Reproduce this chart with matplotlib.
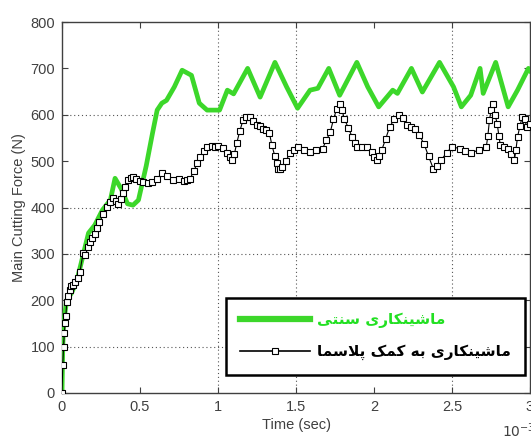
import matplotlib
matplotlib.use('Agg')
import matplotlib.pyplot as plt
from matplotlib.lines import Line2D

# conventional machining (green), time in ms
t_conv = [0, 0.005, 0.01, 0.03, 0.06, 0.094, 0.135, 0.17, 0.21, 0.26, 0.31, 0.34,
          0.38, 0.42, 0.455, 0.49, 0.54, 0.58, 0.61, 0.64, 0.67, 0.72, 0.77, 0.83,
          0.88, 0.93, 1.01, 1.06, 1.10, 1.19, 1.27, 1.365, 1.44, 1.51, 1.59, 1.64,
          1.71, 1.78, 1.89, 1.96, 2.03, 2.12, 2.15, 2.24, 2.31, 2.42, 2.51, 2.56,
          2.62, 2.68, 2.70, 2.78, 2.86, 2.92, 2.99, 3.0]
f_conv = [0, 100, 150, 200, 215, 240, 297, 345, 362, 395, 416, 463,
          440, 408, 405, 416, 490, 560, 610, 625, 631, 660, 696, 685,
          625, 610, 610, 653, 645, 700, 638, 713, 660, 614, 653, 657,
          700, 642, 713, 660, 617, 653, 646, 700, 649, 713, 660, 617,
          642, 700, 646, 713, 617, 653, 700, 695]

# plasma assisted machining (black with markers)
t_plasma = [0, 0.005, 0.01, 0.015, 0.02, 0.025, 0.03, 0.04, 0.05, 0.06, 0.07, 0.085,
            0.1, 0.115, 0.135, 0.15, 0.167, 0.18, 0.195, 0.21, 0.225, 0.24, 0.265,
            0.29, 0.31, 0.33, 0.345, 0.36, 0.375, 0.39, 0.405, 0.42, 0.44, 0.455,
            0.475, 0.5, 0.52, 0.55, 0.58, 0.61, 0.64, 0.67, 0.71, 0.75, 0.78, 0.80,
            0.82, 0.845, 0.865, 0.885, 0.91, 0.93, 0.96, 0.98, 1.0, 1.03, 1.06,
            1.075, 1.09, 1.105, 1.12, 1.14, 1.16, 1.18, 1.205, 1.225, 1.25, 1.27,
            1.29, 1.31, 1.33, 1.345, 1.365, 1.375, 1.385, 1.40, 1.41, 1.435, 1.46,
            1.485, 1.51, 1.55, 1.59, 1.63, 1.67, 1.695, 1.72, 1.74, 1.76, 1.78,
            1.795, 1.81, 1.835, 1.86, 1.875, 1.89, 1.92, 1.955, 1.985, 2.0, 2.02,
            2.035, 2.05, 2.075, 2.10, 2.13, 2.16, 2.185, 2.21, 2.235, 2.26, 2.29,
            2.32, 2.35, 2.38, 2.405, 2.43, 2.465, 2.50, 2.55, 2.585, 2.62, 2.67,
            2.72, 2.73, 2.74, 2.75, 2.76, 2.775, 2.79, 2.80, 2.81, 2.835, 2.86,
            2.88, 2.90, 2.91, 2.92, 2.935, 2.95, 2.965, 2.98, 3.0]
f_plasma = [0, 60, 100, 130, 150, 165, 196, 210, 222, 230, 233, 240,
            248, 261, 302, 297, 315, 325, 335, 343, 355, 368, 385,
            401, 412, 420, 413, 407, 418, 431, 445, 459, 463, 466,
            462, 457, 455, 452, 455, 462, 474, 468, 459, 461, 458, 459,
            462, 478, 495, 509, 522, 531, 533, 531, 532, 528, 517,
            508, 502, 515, 539, 565, 588, 596, 595, 586, 578, 575,
            570, 567, 560, 535, 510, 495, 484, 483, 488, 500, 517,
            525, 531, 524, 520, 524, 527, 545, 563, 590, 612, 624,
            610, 591, 572, 552, 540, 531, 530, 531, 520, 508, 502,
            510, 524, 548, 574, 590, 599, 592, 578, 573, 570, 556,
            538, 510, 484, 490, 502, 518, 531, 527, 522, 517, 524,
            531, 555, 588, 610, 624, 600, 581, 555, 534, 530, 527,
            515, 502, 525, 552, 575, 595, 590, 574, 580]

label_conv = 'ماشینکاری سنتی'
label_plasma = 'ماشینکاری به کمک پلاسما'

x_ticks = [0, 0.5, 1, 1.5, 2, 2.5, 3]
y_ticks = [0, 100, 200, 300, 400, 500, 600, 700, 800]
x_grid = [1, 1.5, 2.5]
y_grid = [100, 300, 400, 600]

# minimal Persian shaping (matplotlib has no bidi / joining support)
FORMS = {
    'ا': ('\uFE8D', '\uFE8E', None, None),
    'ب': ('\uFE8F', '\uFE90', '\uFE91', '\uFE92'),
    'ت': ('\uFE95', '\uFE96', '\uFE97', '\uFE98'),
    'ر': ('\uFEAD', '\uFEAE', None, None),
    'س': ('\uFEB1', '\uFEB2', '\uFEB3', '\uFEB4'),
    'ش': ('\uFEB5', '\uFEB6', '\uFEB7', '\uFEB8'),
    'ل': ('\uFEDD', '\uFEDE', '\uFEDF', '\uFEE0'),
    'م': ('\uFEE1', '\uFEE2', '\uFEE3', '\uFEE4'),
    'ن': ('\uFEE5', '\uFEE6', '\uFEE7', '\uFEE8'),
    'ه': ('\uFEE9', '\uFEEA', '\uFEEB', '\uFEEC'),
    'پ': ('\uFB56', '\uFB57', '\uFB58', '\uFB59'),
    'ک': ('\uFB8E', '\uFB8F', '\uFB90', '\uFB91'),
    'ی': ('\uFBFC', '\uFBFD', '\uFBFE', '\uFBFF'),
}


def shape(text):
    out = []
    chars = list(text)
    i = 0
    while i < len(chars):
        c = chars[i]
        if c not in FORMS:
            out.append(c)
            i += 1
            continue
        prev = chars[i - 1] if i > 0 else None
        join_prev = prev in FORMS and FORMS[prev][2] is not None
        if c == 'ل' and i + 1 < len(chars) and chars[i + 1] == 'ا':
            out.append('\uFEFC' if join_prev else '\uFEFB')
            i += 2
            continue
        nxt = chars[i + 1] if i + 1 < len(chars) else None
        join_next = FORMS[c][2] is not None and nxt in FORMS
        iso, fin, ini, med = FORMS[c]
        if join_prev and join_next:
            out.append(med)
        elif join_prev:
            out.append(fin)
        elif join_next:
            out.append(ini)
        else:
            out.append(iso)
        i += 1
    return ''.join(out)[::-1]


plt.rcParams['font.family'] = ['Liberation Sans', 'DejaVu Sans']

fig = plt.figure(figsize=(5.31, 4.38), dpi=100)
ax = fig.add_axes([62 / 531, 45 / 438, 468 / 531, 371 / 438])

green = '#3cd72a'
ax.plot(t_conv, f_conv, color=green, lw=3.4, solid_joinstyle='round', zorder=3)
ax.plot(t_plasma, f_plasma, color='black', lw=0.8, marker='s', ms=3.8,
        mfc='white', mec='black', mew=0.8, zorder=4)

for xv in x_grid:
    ax.axvline(xv, color='#555555', lw=0.8, ls=(0, (1, 2.5)), zorder=1)
for yv in y_grid:
    ax.axhline(yv, color='#555555', lw=0.8, ls=(0, (1, 2.5)), zorder=1)

ax.set_xlim(0, 3)
ax.set_ylim(0, 800)
ax.set_xticks(x_ticks)
ax.set_xticklabels(['0', '0.5', '1', '1.5', '2', '2.5', '3'])
ax.set_yticks(y_ticks)
ax.tick_params(direction='in', top=True, right=True, length=4, width=0.8,
               labelsize=10.5, labelcolor='#404040', color='#404040', pad=5)
for s in ax.spines.values():
    s.set_color('#404040')
    s.set_linewidth(1.0)

ax.set_xlabel('Time (sec)', fontsize=10.5, color='#404040', labelpad=3)
ax.set_ylabel('Main Cutting Force (N)', fontsize=10.5, color='#404040', labelpad=3)
fig.text(502 / 531, 1 - 431 / 438, r'$10^{-3}$', fontsize=10, color='#404040',
         va='center', ha='left')

handles = [Line2D([], [], color=green, lw=4.5),
           Line2D([], [], color='black', lw=1.2, marker='s', ms=4.5,
                  mfc='white', mec='black', mew=0.8)]
leg = ax.legend(handles, [shape(label_conv), shape(label_plasma)],
                loc='lower right', bbox_to_anchor=(525 / 531, 63 / 438),
                bbox_transform=fig.transFigure, borderaxespad=0,
                fancybox=False, framealpha=1, edgecolor='black',
                handlelength=4.6, handletextpad=0.4, borderpad=0.95,
                labelspacing=1.05, numpoints=1,
                prop={'family': 'DejaVu Sans', 'weight': 'bold', 'size': 11})
leg.get_frame().set_linewidth(1.8)
leg.get_texts()[0].set_color('#22e022')
leg.get_texts()[1].set_color('black')

fig.savefig('out.png', dpi=100)
